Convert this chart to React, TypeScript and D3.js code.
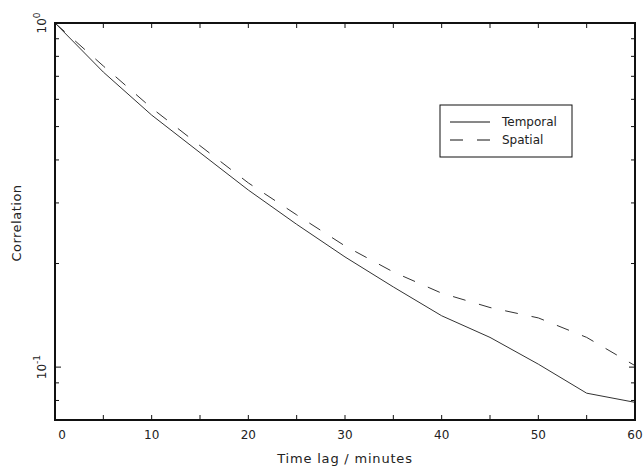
import React, { useEffect, useRef } from 'react';
import * as d3 from 'd3';

// time lag in minutes and the two correlation curves (log axis)
const minutes = [0, 5, 10, 15, 20, 25, 30, 35, 40, 45, 50, 55, 60];
const temporal = [1.0, 0.72, 0.54, 0.42, 0.327, 0.26, 0.209, 0.171, 0.141, 0.122, 0.102, 0.084, 0.079];
const spatial = [1.0, 0.75, 0.566, 0.44, 0.343, 0.277, 0.225, 0.189, 0.164, 0.149, 0.139, 0.122, 0.101];

const xTickLabels = [0, 10, 20, 30, 40, 50, 60];
const xTicks = [0, 5, 10, 15, 20, 25, 30, 35, 40, 45, 50, 55, 60];
const yMajor = [0.1, 1];
const yMinor = [0.08, 0.09, 0.2, 0.3, 0.4, 0.5, 0.6, 0.7, 0.8, 0.9];
const yLabels = [{ v: 1, exp: '0' }, { v: 0.1, exp: '-1' }];
const legendItems = [
  { name: 'Temporal', dash: null },
  { name: 'Spatial', dash: '13,14' },
];

export default function App() {
  const ref = useRef<SVGSVGElement>(null);

  useEffect(() => {
    const width = 644;
    const height = 467;
    const left = 55, right = 635, top = 23, bottom = 420;
    const font = '"DejaVu Sans", sans-serif';

    const svg = d3.select(ref.current);
    svg.selectAll('*').remove();
    svg.attr('width', width).attr('height', height).style('background', 'white');

    const x = d3.scaleLinear().domain([0, 60]).range([left, right]);
    const y = d3.scaleLog().domain([0.0702, 1]).range([bottom, top]);

    // curves
    const line = d3.line<number>()
      .x((d, i) => x(minutes[i]))
      .y(d => y(d));

    svg.append('path')
      .datum(temporal)
      .attr('d', line)
      .attr('fill', 'none')
      .attr('stroke', '#333')
      .attr('stroke-width', 1);

    svg.append('path')
      .datum(spatial)
      .attr('d', line)
      .attr('fill', 'none')
      .attr('stroke', '#333')
      .attr('stroke-width', 1)
      .attr('stroke-dasharray', '13,14');

    // frame
    svg.append('rect')
      .attr('x', left).attr('y', top)
      .attr('width', right - left).attr('height', bottom - top)
      .attr('fill', 'none')
      .attr('stroke', '#111')
      .attr('stroke-width', 2);

    // x ticks, bottom and top, inward
    const g = svg.append('g').attr('stroke', '#111').attr('stroke-width', 1);
    xTicks.forEach(t => {
      g.append('line').attr('x1', x(t)).attr('x2', x(t)).attr('y1', bottom).attr('y2', bottom - 5);
      g.append('line').attr('x1', x(t)).attr('x2', x(t)).attr('y1', top).attr('y2', top + 5);
    });
    // y ticks, both sides
    yMajor.concat(yMinor).forEach(v => {
      const len = yMajor.includes(v) ? 6 : 4;
      g.append('line').attr('x1', left).attr('x2', left + len).attr('y1', y(v)).attr('y2', y(v));
      g.append('line').attr('x1', right).attr('x2', right - len).attr('y1', y(v)).attr('y2', y(v));
    });

    const textStyle = (sel: any, size: number) => sel
      .style('font-family', font)
      .style('font-size', size + 'px')
      .style('fill', '#222');

    // x tick labels
    svg.selectAll('.xl')
      .data(xTickLabels)
      .enter()
      .append('text')
      .attr('x', d => x(d) + (d === 0 ? 7 : 0))
      .attr('y', 439)
      .attr('text-anchor', 'middle')
      .call(textStyle, 12)
      .text(d => d);

    // y tick labels (rotated powers of ten)
    yLabels.forEach(l => {
      const t = svg.append('text')
        .attr('transform', `translate(46, ${y(l.v)}) rotate(-90)`)
        .attr('text-anchor', 'middle')
        .call(textStyle, 12);
      t.append('tspan').text('10');
      t.append('tspan').attr('dy', -6).style('font-size', '9px').text(l.exp);
    });

    // axis titles
    svg.append('text')
      .attr('x', 345)
      .attr('y', 463)
      .attr('text-anchor', 'middle')
      .call(textStyle, 13)
      .style('letter-spacing', '0.8px')
      .text('Time lag / minutes');

    svg.append('text')
      .attr('transform', 'translate(21, 223) rotate(-90)')
      .attr('text-anchor', 'middle')
      .call(textStyle, 13)
      .style('letter-spacing', '0.5px')
      .text('Correlation');

    // legend
    const lg = svg.append('g');
    lg.append('rect')
      .attr('x', 440).attr('y', 105)
      .attr('width', 132).attr('height', 52)
      .attr('fill', 'white')
      .attr('stroke', '#111')
      .attr('stroke-width', 1);
    legendItems.forEach((item, i) => {
      const ly = 122 + i * 18;
      lg.append('line')
        .attr('x1', 450).attr('x2', 490)
        .attr('y1', ly).attr('y2', ly)
        .attr('stroke', '#111')
        .attr('stroke-width', 1)
        .attr('stroke-dasharray', item.dash);
      lg.append('text')
        .attr('x', 502).attr('y', ly + 4)
        .call(textStyle, 12)
        .text(item.name);
    });
  }, []);

  return (
    <div style={{ position: 'absolute', left: 0, top: 0 }}>
      <svg ref={ref}></svg>
    </div>
  );
}
